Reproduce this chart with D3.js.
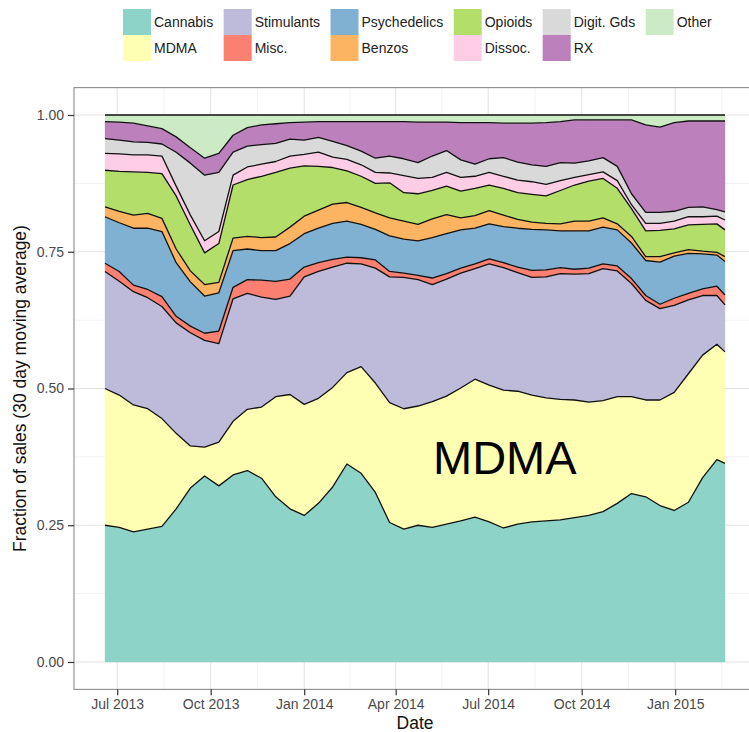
<!DOCTYPE html>
<html><head><meta charset="utf-8">
<script src="https://cdn.jsdelivr.net/npm/d3@7"></script>
<style>
body{margin:0;background:#fff}
svg{display:block}
text{font-family:"Liberation Sans",Arial,Helvetica,sans-serif}
</style>
</head><body>
<svg id="chart" width="749" height="732"></svg>
<script>
// ---------------- data ----------------
const categories = ["Cannabis","MDMA","Stimulants","Misc.","Psychedelics","Benzos","Opioids","Dissoc.","Digit. Gds","RX","Other"];
const colors = ["#8DD3C7","#FFFFB3","#BEBADA","#FB8072","#80B1D3","#FDB462","#B3DE69","#FCCDE5","#D9D9D9","#BC80BD","#CCEBC5"];

const dates = ["2013-06-19","2013-07-03","2013-07-17","2013-07-31","2013-08-14","2013-08-28","2013-09-11","2013-09-25","2013-10-09","2013-10-23","2013-11-06","2013-11-20","2013-12-04","2013-12-18","2014-01-01","2014-01-15","2014-01-29","2014-02-12","2014-02-26","2014-03-12","2014-03-26","2014-04-09","2014-04-23","2014-05-07","2014-05-21","2014-06-04","2014-06-18","2014-07-02","2014-07-16","2014-07-30","2014-08-13","2014-08-27","2014-09-10","2014-09-24","2014-10-08","2014-10-22","2014-11-05","2014-11-19","2014-12-03","2014-12-17","2014-12-31","2015-01-14","2015-01-28","2015-02-11","2015-02-19"];

const cannabis     = [.250,.246,.238,.243,.248,.280,.318,.340,.322,.342,.350,.336,.302,.280,.268,.290,.320,.362,.345,.310,.255,.243,.250,.246,.252,.258,.265,.256,.245,.252,.256,.258,.260,.264,.268,.275,.290,.308,.302,.286,.277,.292,.337,.370,.363];
const mdma         = [.250,.242,.232,.220,.197,.138,.077,.053,.080,.098,.112,.130,.183,.209,.203,.192,.182,.167,.195,.200,.219,.220,.218,.230,.234,.243,.252,.250,.252,.243,.232,.225,.220,.215,.207,.203,.195,.177,.177,.193,.216,.235,.224,.211,.204];
const stimulants   = [.214,.208,.207,.203,.205,.202,.207,.195,.180,.224,.212,.201,.178,.180,.233,.232,.220,.200,.188,.210,.230,.240,.231,.214,.214,.210,.202,.222,.224,.217,.215,.221,.230,.230,.235,.241,.230,.207,.182,.167,.159,.135,.109,.089,.086];
const misc         = [.015,.018,.012,.015,.018,.012,.012,.013,.023,.021,.025,.031,.033,.031,.018,.016,.014,.011,.011,.015,.010,.008,.008,.012,.010,.009,.009,.009,.009,.010,.013,.013,.011,.009,.010,.009,.009,.009,.009,.008,.013,.012,.012,.017,.018];
const psychedelics = [.085,.089,.104,.112,.119,.098,.081,.068,.070,.067,.056,.054,.056,.065,.061,.063,.066,.066,.061,.056,.065,.062,.063,.074,.073,.070,.065,.064,.066,.071,.075,.073,.067,.070,.068,.067,.066,.065,.064,.077,.077,.073,.064,.057,.061];
const benzos       = [.018,.021,.024,.027,.024,.025,.020,.021,.019,.023,.023,.024,.025,.030,.032,.033,.035,.034,.031,.030,.033,.033,.030,.034,.035,.022,.023,.024,.021,.016,.013,.012,.013,.018,.018,.017,.011,.012,.007,.010,.006,.007,.005,.005,.009];
const opioids      = [.067,.073,.079,.075,.082,.097,.084,.058,.071,.097,.104,.112,.118,.108,.092,.080,.067,.058,.057,.054,.064,.052,.056,.052,.052,.049,.050,.047,.049,.049,.051,.050,.061,.066,.073,.072,.065,.051,.047,.048,.044,.045,.049,.052,.049];
const dissoc       = [.031,.032,.031,.032,.032,.018,.018,.022,.022,.018,.023,.022,.020,.022,.021,.026,.019,.021,.021,.020,.018,.031,.028,.024,.025,.025,.022,.023,.022,.023,.023,.021,.018,.014,.012,.012,.014,.007,.014,.013,.014,.015,.014,.014,.018];
const digital      = [.027,.025,.024,.023,.022,.062,.095,.120,.108,.042,.038,.036,.033,.031,.026,.027,.029,.025,.025,.026,.031,.031,.029,.039,.040,.032,.022,.025,.034,.033,.031,.033,.033,.026,.025,.026,.026,.020,.020,.020,.018,.017,.018,.012,.015];
const rx           = [.031,.033,.034,.030,.028,.028,.028,.031,.035,.031,.034,.036,.036,.030,.033,.029,.036,.044,.054,.067,.063,.068,.074,.062,.052,.068,.076,.066,.063,.071,.076,.080,.075,.079,.075,.069,.085,.135,.160,.156,.162,.158,.157,.162,.166];
const other        = [.012,.013,.015,.020,.025,.040,.060,.079,.070,.037,.023,.018,.016,.014,.013,.012,.012,.012,.012,.012,.012,.012,.013,.013,.013,.014,.014,.014,.015,.015,.015,.014,.012,.009,.009,.009,.009,.009,.018,.022,.014,.011,.011,.011,.011];

const xTickDates  = ["2013-07-01","2013-10-01","2014-01-01","2014-04-01","2014-07-01","2014-10-01","2015-01-01"];
const xTickLabels = ["Jul 2013","Oct 2013","Jan 2014","Apr 2014","Jul 2014","Oct 2014","Jan 2015"];
const yTicks      = [0, 0.25, 0.5, 0.75, 1];
const yTickLabels = ["0.00","0.25","0.50","0.75","1.00"];

const seriesValues = [cannabis,mdma,stimulants,misc,psychedelics,benzos,opioids,dissoc,digital,rx,other];

// ---------------- build ----------------
const parse = d3.timeParse("%Y-%m-%d");
const rows = dates.map((d,i)=>{
  const r = {date: parse(d)};
  categories.forEach((c,j)=>{ r[c] = seriesValues[j][i]; });
  return r;
});

const svg = d3.select("#chart");
const dataL = 105, dataR = 725, dataB = 662, dataT = 115;
const padX = (dataR-dataL)*0.05, padY = (dataB-dataT)*0.05;
const P = {l:dataL-padX, r:dataR+padX, t:dataT-padY, b:dataB+padY};

const x = d3.scaleTime().domain(d3.extent(rows, d=>d.date)).range([dataL, dataR]);
const y = d3.scaleLinear().domain([0,1]).range([dataB, dataT]);

// panel background + grid
svg.append("rect").attr("x",P.l).attr("y",P.t).attr("width",P.r-P.l).attr("height",P.b-P.t).attr("fill","#fff");

const majX = xTickDates.map(parse);
const minX = [];
for(let i=0;i<majX.length-1;i++) minX.push(new Date((+majX[i]+ +majX[i+1])/2));
minX.push(new Date(+majX[majX.length-1] + (majX[majX.length-1]-majX[majX.length-2])/2));
minX.unshift(new Date(+majX[0] - (majX[1]-majX[0])/2));
const minY = [];
for(let i=0;i<yTicks.length-1;i++) minY.push((yTicks[i]+yTicks[i+1])/2);

const grid = svg.append("g");
grid.selectAll(".mnx").data(minX.filter(d=>x(d)>P.l && x(d)<P.r)).join("line")
  .attr("x1",d=>x(d)).attr("x2",d=>x(d)).attr("y1",P.t).attr("y2",P.b).attr("stroke","#f3f3f3").attr("stroke-width",1);
grid.selectAll(".mny").data(minY).join("line")
  .attr("x1",P.l).attr("x2",P.r).attr("y1",d=>y(d)).attr("y2",d=>y(d)).attr("stroke","#f3f3f3").attr("stroke-width",1);
grid.selectAll(".mjx").data(majX).join("line")
  .attr("x1",d=>x(d)).attr("x2",d=>x(d)).attr("y1",P.t).attr("y2",P.b).attr("stroke","#e2e2e2").attr("stroke-width",1);
grid.selectAll(".mjy").data(yTicks).join("line")
  .attr("x1",P.l).attr("x2",P.r).attr("y1",d=>y(d)).attr("y2",d=>y(d)).attr("stroke","#e2e2e2").attr("stroke-width",1);

// stacked areas
const stack = d3.stack().keys(categories);
const layers = stack(rows);
const area = d3.area().x(d=>x(d.data.date)).y0(d=>y(d[0])).y1(d=>y(d[1]));
const topLine = d3.line().x(d=>x(d.data.date)).y(d=>y(d[1]));

const plot = svg.append("g");
plot.selectAll("path.area").data(layers).join("path").attr("class","area")
  .attr("d",area).attr("fill",(d,i)=>colors[i]).attr("stroke",(d,i)=>colors[i]).attr("stroke-width",0.3);
plot.selectAll("path.edge").data(layers).join("path").attr("class","edge")
  .attr("d",topLine).attr("fill","none").attr("stroke","#111").attr("stroke-width",1.3).attr("stroke-linejoin","round");

// panel border
svg.append("rect").attr("x",P.l).attr("y",P.t).attr("width",P.r-P.l).attr("height",P.b-P.t)
  .attr("fill","none").attr("stroke","#808080").attr("stroke-width",1);

// axes
const xAxis = d3.axisBottom(x).tickValues(majX).tickFormat((d,i)=>xTickLabels[i]).tickSizeOuter(0).tickSize(6).tickPadding(4);
const gx = svg.append("g").attr("transform",`translate(0,${P.b})`).call(xAxis);
const yAxis = d3.axisLeft(y).tickValues(yTicks).tickFormat((d,i)=>yTickLabels[i]).tickSizeOuter(0).tickSize(6).tickPadding(4);
const gy = svg.append("g").attr("transform",`translate(${P.l},0)`).call(yAxis);
[gx,gy].forEach(g=>{
  g.select(".domain").remove();
  g.selectAll(".tick line").attr("stroke","#333").attr("stroke-width",1.2);
  g.selectAll(".tick text").attr("fill","#4a4a4a").style("font-size","14px").style("font-family",'"Liberation Sans",Arial,sans-serif');
});

// axis titles
svg.append("text").attr("x",(P.l+P.r)/2).attr("y",729).attr("text-anchor","middle")
  .style("font-size","17.5px").attr("fill","#111").text("Date");
svg.append("text").attr("transform",`translate(26,${(P.t+P.b)/2}) rotate(-90)`).attr("text-anchor","middle")
  .style("font-size","17.5px").attr("fill","#111").text("Fraction of sales (30 day moving average)");

// annotation
svg.append("text").attr("x",433).attr("y",474).style("font-size","47px").attr("fill","#000").text("MDMA");

// legend (filled by column, 2 rows)
const leg = svg.append("g");
const keyW = 28, keyH = 26, textOff = 31, colGap = 10.5, legX0 = 123, legY0 = 9;
let cx = legX0;
const nRows = 2;
for(let c=0;c*nRows<categories.length;c++){
  let maxW = 0;
  for(let r=0;r<nRows;r++){
    const i = c*nRows + r;
    if(i>=categories.length) break;
    const yy = legY0 + r*keyH;
    leg.append("rect").attr("x",cx).attr("y",yy).attr("width",keyW).attr("height",keyH).attr("fill",colors[i]);
    const t = leg.append("text").attr("x",cx+textOff).attr("y",yy+keyH/2+5).style("font-size","14px").attr("fill","#222").text(categories[i]);
    maxW = Math.max(maxW, t.node().getComputedTextLength());
  }
  cx += textOff + maxW + colGap;
}
</script>
</body></html>
